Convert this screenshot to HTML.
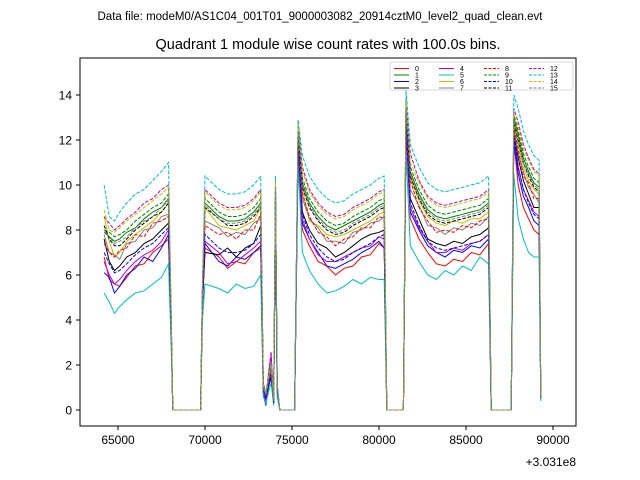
<!DOCTYPE html>
<html><head><meta charset="utf-8"><style>
body{margin:0;background:#fff;}
svg{display:block;font-family:"Liberation Sans","DejaVu Sans",sans-serif;}
</style></head><body>
<svg id="chart" width="640" height="480" viewBox="0 0 640 480" xmlns="http://www.w3.org/2000/svg">
<rect width="640" height="480" fill="#fff"/>
<text x="320" y="20" font-size="11.5" text-anchor="middle">Data file: modeM0/AS1C04_001T01_9000003082_20914cztM0_level2_quad_clean.evt</text>
<text x="328" y="49" font-size="14.5" text-anchor="middle">Quadrant 1 module wise count rates with 100.0s bins.</text>
<g id="plot"></g>
<rect x="80" y="58" width="496" height="368" fill="none" stroke="#000" stroke-width="1"/>
<g id="ticks"></g>
<text x="576" y="466" font-size="12" text-anchor="end">+3.031e8</text>
<g id="legend"></g>
</svg>
<script>
const times=[64200,64500,64800,65100,65500,66000,66500,67000,67500,67900,68050,68150,69750,69850,70000,70800,71300,71800,72300,72800,73200,73350,73500,73650,73800,73950,74050,74150,74300,75150,75350,75600,76000,76500,77000,77500,78000,78500,79000,79500,80000,80300,80450,81400,81550,81800,82300,82800,83300,83800,84300,84800,85300,85800,86300,86450,87600,87750,88000,88300,88600,88900,89200,89300];
const s0=[6.8,5.8,5.6,5.5,5.9,6.4,6.5,7.0,7.3,7.6,3.5,0,0,4.5,7.2,6.8,6.3,6.6,6.5,7.0,7.2,0.8,0.4,1.0,1.5,0.3,9.0,0.8,0,0,11.5,8.0,7.3,6.6,6.4,6.0,6.3,6.4,6.8,6.9,7.4,7.2,0,0,12.5,8.5,7.6,7.0,6.5,6.4,6.7,6.6,7.0,6.9,7.4,0,0,12.0,10.0,9.0,8.5,8.0,7.8,0.5];
const s1=[7.9,7.7,7.5,7.6,7.9,8.1,8.5,8.8,9.0,9.4,4.3,0,0,5.3,9.2,8.6,8.4,8.4,8.5,8.8,9.2,1.1,0.7,1.4,2.0,0.4,10.0,1.1,0,0,12.5,10.1,9.2,8.6,8.2,8.0,8.2,8.4,8.6,8.8,9.1,9.2,0,0,13.5,10.6,9.6,8.9,8.6,8.5,8.6,8.7,8.8,8.9,9.2,0,0,13.0,12.2,11.2,10.6,10.1,9.9,0.5];
const s2=[6.1,5.9,5.2,5.5,6.0,6.3,6.8,6.6,7.2,7.8,3.6,0,0,4.6,7.4,6.6,6.4,6.8,6.7,7.0,7.3,0.7,0.2,1.1,1.4,0.3,9.2,0.8,0,0,11.8,8.3,7.6,7.0,6.4,6.3,6.5,6.7,7.0,7.2,7.5,7.2,0,0,12.8,8.8,8.0,7.3,7.0,6.8,7.1,7.0,7.3,7.2,7.6,0,0,12.0,10.5,9.5,9.0,8.4,8.2,0.5];
const s3=[7.6,6.6,6.2,6.4,6.8,7.0,7.4,7.6,8.0,8.3,3.8,0,0,4.8,7.0,6.9,7.2,6.8,7.2,7.4,8.2,0.9,0.5,1.1,1.7,0.4,9.4,0.9,0,0,12.0,8.8,8.0,7.4,7.2,6.8,7.0,7.3,7.6,7.8,7.9,8.0,0,0,13.0,9.4,8.5,7.6,7.4,7.3,7.5,7.4,7.7,7.8,8.1,0,0,12.4,11.2,10.2,9.6,9.0,9.0,0.5];
const s4=[6.6,6.0,5.6,5.8,6.2,6.6,6.9,7.1,7.5,8.0,3.7,0,0,4.7,7.5,7.0,6.5,6.6,6.9,7.2,7.5,0.8,0.4,1.6,2.4,0.3,9.3,0.9,0,0,11.9,8.5,7.6,6.9,6.6,6.6,6.8,7.0,7.2,7.3,7.7,7.6,0,0,12.8,9.0,8.1,7.5,7.0,7.0,7.2,7.1,7.4,7.5,7.8,0,0,12.2,10.8,9.8,9.3,8.8,8.6,0.5];
const s5=[5.2,4.8,4.3,4.6,4.9,5.2,5.3,5.6,5.9,6.5,3.0,0,0,4.0,5.6,5.4,5.2,5.6,5.4,5.5,6.0,0.6,0.3,0.8,1.2,0.2,8.5,0.6,0,0,11.0,7.0,6.2,5.6,5.2,5.3,5.5,5.8,5.6,5.9,5.8,5.8,0,0,11.5,7.3,6.6,6.0,5.8,6.2,6.0,6.4,6.2,6.8,6.5,0,0,10.5,8.5,7.6,7.0,6.8,6.8,0.4];
const s6=[8.6,7.5,6.8,7.0,7.5,7.8,8.1,8.4,8.8,9.2,4.1,0,0,5.1,9.0,8.2,8.1,8.0,8.2,8.4,9.0,1.0,0.6,1.3,1.9,0.4,9.8,1.0,0,0,12.3,9.8,8.4,8.2,7.8,7.7,7.8,8.0,8.2,8.4,8.7,8.8,0,0,13.2,10.3,9.3,8.6,8.3,8.2,8.4,8.3,8.5,8.5,8.8,0,0,12.7,11.8,10.8,10.2,9.8,9.6,0.5];
const s7=[7.8,7.0,6.9,6.7,7.4,7.5,8.0,8.1,8.6,8.7,4.0,0,0,5.0,8.4,8.1,7.7,7.9,7.8,8.3,8.5,1.0,0.6,1.2,1.8,0.4,9.5,1.0,0,0,12.0,9.4,8.5,8.1,7.5,7.5,7.4,7.9,8.0,8.3,8.4,8.6,0,0,13.0,9.8,9.1,8.2,8.1,7.8,8.1,8.0,8.3,8.2,8.6,0,0,12.5,11.4,10.6,9.9,9.6,9.2,0.5];
const s8=[7.4,7.0,6.8,7.1,7.2,7.8,7.7,8.3,8.4,8.6,4.0,0,0,5.0,8.2,7.8,7.9,7.6,8.0,8.0,8.7,1.0,0.6,1.2,1.8,0.4,9.5,1.0,0,0,12.1,9.6,8.6,7.9,7.7,7.3,7.6,7.7,8.1,8.1,8.6,8.5,0,0,13.2,10.2,9.0,8.4,7.9,8.0,7.9,8.2,8.1,8.4,8.5,0,0,12.6,11.6,10.4,10.1,9.4,9.4,0.5];
const s9=[8.0,7.9,7.7,7.8,8.0,8.4,8.7,9.0,9.2,9.6,4.3,0,0,5.3,9.4,8.8,8.6,8.6,8.7,9.0,9.4,1.1,0.7,1.4,2.0,0.4,10.0,1.1,0,0,12.6,10.3,9.4,8.8,8.4,8.2,8.3,8.6,8.8,9.0,9.3,9.4,0,0,13.6,10.8,9.8,9.1,8.8,8.7,8.8,8.9,9.0,9.1,9.4,0,0,13.1,12.4,11.4,10.8,10.3,10.1,0.5];
const s10=[7.0,6.5,6.1,6.2,6.5,6.9,7.2,7.4,7.8,8.1,3.7,0,0,4.7,7.8,7.2,7.0,7.0,7.1,7.4,7.8,0.9,0.5,1.1,1.6,0.3,9.3,0.9,0,0,11.8,8.7,7.8,7.2,6.8,6.6,6.7,7.0,7.2,7.4,7.7,7.8,0,0,12.8,9.2,8.2,7.5,7.2,7.1,7.2,7.3,7.4,7.5,7.8,0,0,12.2,10.8,9.8,9.2,8.7,8.5,0.5];
const s11=[8.2,7.6,7.3,7.3,7.6,8.0,8.3,8.6,8.8,9.2,4.2,0,0,5.2,9.0,8.5,8.2,8.2,8.3,8.6,9.0,1.0,0.7,1.3,1.9,0.4,9.8,1.0,0,0,12.3,9.9,9.0,8.4,8.0,7.8,7.9,8.2,8.4,8.6,8.9,9.0,0,0,13.3,10.4,9.4,8.7,8.4,8.3,8.4,8.5,8.6,8.7,9.0,0,0,12.8,12.0,11.0,10.4,9.9,9.7,0.5];
const s12=[8.6,8.3,8.0,8.2,8.5,8.8,9.2,9.4,9.8,10.0,4.4,0,0,5.4,9.8,9.2,9.0,9.0,9.1,9.4,9.8,1.2,0.7,1.6,2.6,0.4,10.1,1.1,0,0,12.8,10.8,9.8,9.2,8.8,8.6,8.7,9.0,9.2,9.4,9.7,9.8,0,0,13.8,11.4,10.2,9.5,9.2,9.1,9.2,9.3,9.4,9.5,9.8,0,0,13.4,12.8,11.8,11.2,10.7,10.5,0.5];
const s13=[10.0,8.6,8.4,8.8,9.2,9.6,9.8,10.2,10.6,11.0,4.6,0,0,5.6,10.4,9.8,9.6,9.6,9.7,10.0,10.4,1.2,0.8,1.5,2.1,0.5,10.4,1.2,0,0,12.9,11.3,10.4,9.8,9.4,9.2,9.3,9.6,9.8,10.0,10.3,10.4,0,0,14.2,11.8,10.8,10.1,9.8,9.7,9.8,9.9,10.0,10.1,10.4,0,0,14.0,13.4,12.4,11.8,11.3,11.1,0.5];
const s14=[8.9,8.0,7.9,8.1,8.4,8.7,9.0,9.3,9.6,9.9,4.4,0,0,5.4,9.7,9.1,8.9,8.9,9.0,9.3,9.7,1.1,0.7,1.4,2.0,0.4,10.1,1.1,0,0,12.7,10.6,9.7,9.1,8.7,8.5,8.6,8.9,9.1,9.3,9.6,9.7,0,0,13.7,11.0,10.1,9.4,9.1,9.0,9.1,9.2,9.3,9.4,9.7,0,0,13.2,12.6,11.6,11.1,10.6,10.4,0.5];
const s15=[8.0,7.7,7.4,7.5,7.7,8.1,8.4,8.6,9.0,9.3,4.2,0,0,5.2,9.1,8.5,8.3,8.3,8.4,8.7,9.1,1.0,0.7,1.3,1.9,0.4,9.9,1.0,0,0,12.4,10.0,9.1,8.5,8.1,7.9,8.0,8.3,8.5,8.7,9.0,9.1,0,0,13.4,10.5,9.5,8.8,8.5,8.4,8.5,8.6,8.7,8.8,9.1,0,0,12.9,12.1,11.0,10.5,10.0,9.8,0.5];
const series=[s0,s1,s2,s3,s4,s5,s6,s7,s8,s9,s10,s11,s12,s13,s14,s15];
const seriesLabels=["0","1","2","3","4","5","6","7","8","9","10","11","12","13","14","15"];
const xTicks=[65000,70000,75000,80000,85000,90000];
const yTicks=[0,2,4,6,8,10,12,14];

const NS="http://www.w3.org/2000/svg";
const colors=["#ff0000","#008000","#0000ff","#000000","#bf00bf","#00bfbf","#bfbf00","#808080"];
function xs(v){return 118+(v-65000)*0.0174;}
function ys(v){return 410-22.5*v;}
const plot=document.getElementById('plot');
series.forEach((arr,i)=>{
  const p=document.createElementNS(NS,'path');
  let d=arr.map((v,j)=>(j?'L':'M')+xs(times[j]).toFixed(1)+','+ys(v).toFixed(1)).join('');
  p.setAttribute('d',d);p.setAttribute('fill','none');
  p.setAttribute('stroke',colors[i%8]);p.setAttribute('stroke-width','1');
  if(i>=8)p.setAttribute('stroke-dasharray','3.7,1.6');
  
  
  plot.appendChild(p);
});
const tk=document.getElementById('ticks');
xTicks.forEach(v=>{
  const l=document.createElementNS(NS,'line');
  l.setAttribute('x1',xs(v));l.setAttribute('x2',xs(v));l.setAttribute('y1',426);l.setAttribute('y2',430);l.setAttribute('stroke','#000');
  
  
  tk.appendChild(l);
  const t=document.createElementNS(NS,'text');
  t.setAttribute('x',xs(v));t.setAttribute('y',444);t.setAttribute('font-size','12');t.setAttribute('text-anchor','middle');
  t.textContent=v;
  
  
  tk.appendChild(t);
});
yTicks.forEach(v=>{
  const l=document.createElementNS(NS,'line');
  l.setAttribute('x1',76);l.setAttribute('x2',80);l.setAttribute('y1',ys(v));l.setAttribute('y2',ys(v));l.setAttribute('stroke','#000');
  
  
  tk.appendChild(l);
  const t=document.createElementNS(NS,'text');
  t.setAttribute('x',72);t.setAttribute('y',ys(v)+4.5);t.setAttribute('font-size','12');t.setAttribute('text-anchor','end');
  t.textContent=v;
  
  
  tk.appendChild(t);
});
const lg=document.getElementById('legend');
const box=document.createElementNS(NS,'rect');
box.setAttribute('x',390);box.setAttribute('y',62);box.setAttribute('width',183);box.setAttribute('height',28);box.setAttribute('rx',2);
box.setAttribute('fill','#fff');box.setAttribute('fill-opacity','0.8');box.setAttribute('stroke','#ccc');box.setAttribute('stroke-width','0.8');


lg.appendChild(box);
const colX=[394,439,484,529];
seriesLabels.forEach((lab,i)=>{
  const c=Math.floor(i/4),r=i%4;
  const y=68.5+r*6.5;
  const l=document.createElementNS(NS,'line');
  l.setAttribute('x1',colX[c]);l.setAttribute('x2',colX[c]+15);l.setAttribute('y1',y);l.setAttribute('y2',y);
  l.setAttribute('stroke',colors[i%8]);l.setAttribute('stroke-width','1');
  if(i>=8)l.setAttribute('stroke-dasharray','3,1.5');
  
  
  lg.appendChild(l);
  const t=document.createElementNS(NS,'text');
  t.setAttribute('x',colX[c]+21);t.setAttribute('y',y+2.5);t.setAttribute('font-size','7');
  t.textContent=lab;
  
  
  lg.appendChild(t);
});
</script>
</body></html>
